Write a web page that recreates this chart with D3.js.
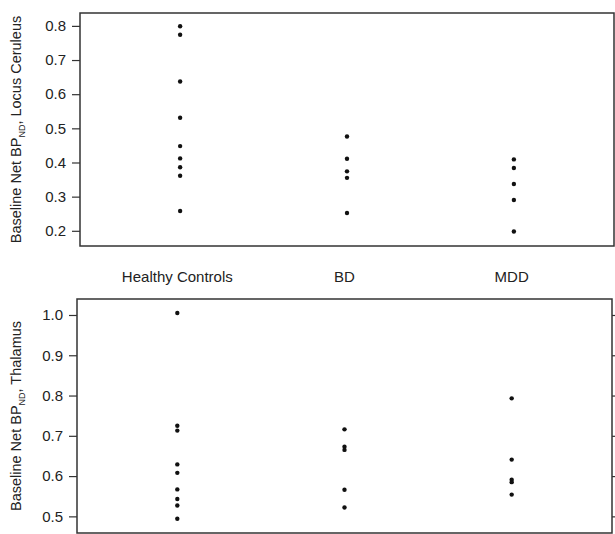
<!DOCTYPE html>
<html><head><meta charset="utf-8">
<script src="https://cdn.jsdelivr.net/npm/d3@7"></script>
<style>body{margin:0;background:#fff}svg{display:block}text{font-family:"Liberation Sans",Arial,sans-serif;fill:#222}</style>
</head><body><svg id="c" width="615" height="534"></svg>
<script>
const categories = ["Healthy Controls", "BD", "MDD"];
const lcTicks = [0.2, 0.3, 0.4, 0.5, 0.6, 0.7, 0.8];
const thTicks = [0.5, 0.6, 0.7, 0.8, 0.9, 1.0];
const lcHC = [0.799, 0.774, 0.637, 0.531, 0.448, 0.412, 0.386, 0.361, 0.258];
const lcBD = [0.476, 0.411, 0.374, 0.355, 0.252];
const lcMDD = [0.409, 0.384, 0.337, 0.290, 0.198];
const thHC = [1.005, 0.725, 0.713, 0.629, 0.608, 0.567, 0.543, 0.527, 0.494];
const thBD = [0.716, 0.673, 0.665, 0.566, 0.522];
const thMDD = [0.793, 0.641, 0.591, 0.585, 0.554];

const svg = d3.select("#c");

function panel(cfg) {
  const {x0, x1, y0, y1, domain, ticks, series, title, rightTicks} = cfg;
  const x = d3.scalePoint().domain(categories).range([x0, x1]).padding(0.6);
  const y = d3.scaleLinear().domain(domain).range([y1, y0]);
  const g = svg.append("g");
  g.append("rect").attr("x", x0).attr("y", y0).attr("width", x1 - x0).attr("height", y1 - y0)
    .attr("fill", "none").attr("stroke", "#333").attr("stroke-width", 1.5);
  const ax = g.append("g").attr("transform", `translate(${x0},0)`)
    .call(d3.axisLeft(y).tickValues(ticks).tickFormat(d3.format(".1f")).tickSize(8).tickPadding(6));
  ax.select(".domain").remove();
  ax.selectAll("line").attr("stroke", "#333").attr("stroke-width", 1.2);
  ax.selectAll("text").style("font-size", "15px").attr("fill", "#222");
  if (rightTicks) {
    const ar = g.append("g").attr("transform", `translate(${x1},0)`)
      .call(d3.axisRight(y).tickValues(ticks).tickFormat("").tickSize(4));
    ar.select(".domain").remove();
    ar.selectAll("line").attr("stroke", "#333").attr("stroke-width", 1.2);
  }
  categories.forEach((c, i) => {
    g.selectAll(null).data(series[i]).enter().append("circle")
      .attr("cx", x(c)).attr("cy", d => y(d)).attr("r", 2.2).attr("fill", "#111");
  });
  const cy = (y0 + y1) / 2;
  const t = g.append("text").attr("transform", `translate(21,${cy}) rotate(-90)`)
    .attr("text-anchor", "middle").style("font-size", "14.5px");
  t.append("tspan").text("Baseline Net BP");
  t.append("tspan").text("ND").style("font-size", "9px").attr("dy", 4);
  t.append("tspan").text(", " + title).attr("dy", -4);
  return x;
}

panel({x0: 80, x1: 614, y0: 13, y1: 246, domain: [0.1555, 0.8377], ticks: lcTicks,
  series: [lcHC, lcBD, lcMDD], title: "Locus Ceruleus", rightTicks: false});
const xb = panel({x0: 77, x1: 612, y0: 299, y1: 533, domain: [0.4587, 1.0397], ticks: thTicks,
  series: [thHC, thBD, thMDD], title: "Thalamus", rightTicks: true});

svg.append("g").selectAll("text").data(categories).enter().append("text")
  .attr("x", d => xb(d)).attr("y", 282).attr("text-anchor", "middle")
  .style("font-size", "15px").text(d => d);
</script></body></html>
